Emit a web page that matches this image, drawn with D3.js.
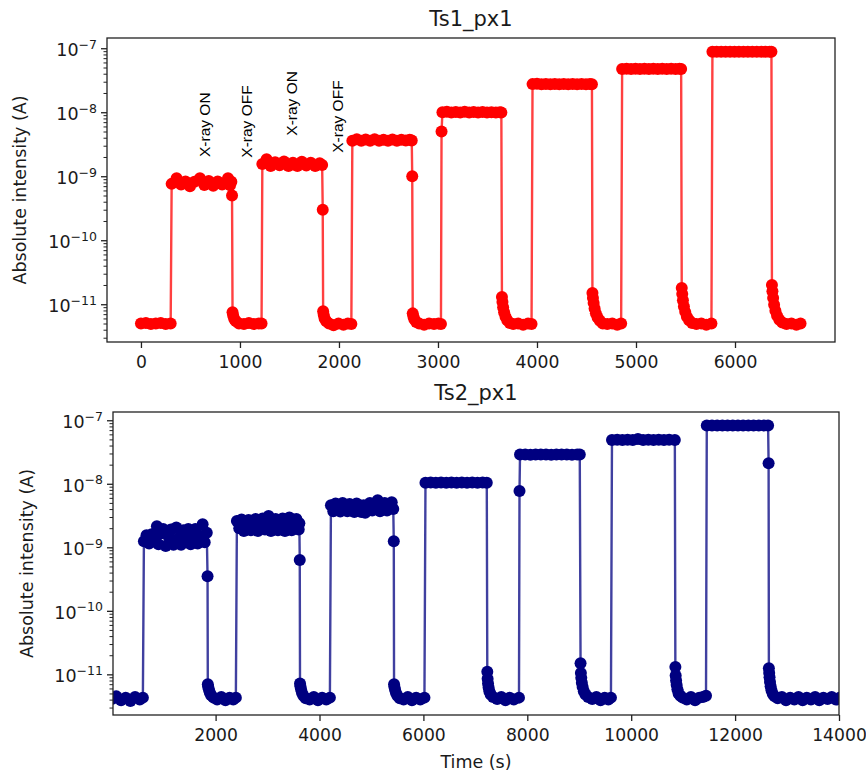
<!DOCTYPE html>
<html>
<head>
<meta charset="utf-8">
<script src="https://cdn.jsdelivr.net/npm/d3@7"></script>
<style>
  body { margin: 0; background: #fff; }
  text { font-family: "DejaVu Sans", sans-serif; fill: #1a1a1a; }
</style>
</head>
<body>
<svg id="chart" width="866" height="774"></svg>
<script>
// time (s), absolute current (A)
const ts1Data = [
  [0,5.0e-12],[50,5.1e-12],[100,4.9e-12],[150,5.0e-12],[200,5.1e-12],[250,4.9e-12],[300,5.0e-12],
  [310,7.6e-10],[360,9.3e-10],[405,7.4e-10],[450,8.3e-10],[495,7.0e-10],[540,8.2e-10],[596,9.3e-10],[640,7.3e-10],
  [685,8.4e-10],[730,7.1e-10],[775,8.3e-10],[820,7.4e-10],[879,9.3e-10],[900,7.2e-10],[913,8.2e-10],
  [920,5.0e-10],
  [925,7.5e-12],[932,6.6e-12],[942,5.9e-12],[960,5.4e-12],[990,5.0e-12],[1040,4.9e-12],[1090,5.1e-12],[1140,4.9e-12],[1190,5.0e-12],[1218,5.0e-12],
  [1226,1.55e-9],[1269,1.85e-9],[1310,1.45e-9],[1355,1.65e-9],[1400,1.48e-9],[1445,1.7e-9],[1490,1.45e-9],[1535,1.62e-9],
  [1580,1.45e-9],[1625,1.68e-9],[1670,1.47e-9],[1715,1.62e-9],[1760,1.45e-9],[1805,1.6e-9],[1830,1.5e-9],
  [1836,3.0e-10],
  [1840,7.8e-12],[1846,6.8e-12],[1855,6.0e-12],[1872,5.4e-12],[1900,5.0e-12],[1945,4.7e-12],[1995,5.0e-12],[2045,4.8e-12],[2090,5.0e-12],[2125,4.9e-12],
  [2135,3.6e-9],[2180,3.8e-9],[2225,3.6e-9],[2270,3.75e-9],[2315,3.6e-9],[2360,3.8e-9],[2405,3.6e-9],[2450,3.72e-9],
  [2495,3.6e-9],[2540,3.76e-9],[2585,3.6e-9],[2630,3.72e-9],[2675,3.62e-9],[2715,3.72e-9],[2735,3.62e-9],
  [2740,1.0e-9],
  [2745,7.2e-12],[2752,6.4e-12],[2762,5.8e-12],[2780,5.3e-12],[2810,5.0e-12],[2860,4.8e-12],[2910,5.0e-12],[2960,4.9e-12],[3005,5.0e-12],[3030,4.9e-12],
  [3036,5.0e-9],
  [3045,1.0e-8],[3090,1.02e-8],[3135,9.9e-9],[3180,1.01e-8],[3225,9.9e-9],[3270,1.02e-8],[3315,9.9e-9],[3360,1.01e-8],
  [3405,9.9e-9],[3450,1.01e-8],[3495,9.9e-9],[3540,1.0e-8],[3585,9.9e-9],[3625,1.0e-8],[3640,9.9e-9],
  [3646,1.3e-11],[3651,1.08e-11],[3658,9.0e-12],[3668,7.5e-12],[3682,6.4e-12],[3700,5.6e-12],[3725,5.1e-12],[3760,4.9e-12],[3810,5.0e-12],[3860,4.8e-12],[3910,5.0e-12],[3945,4.9e-12],
  [3955,2.75e-8],[4000,2.78e-8],[4045,2.74e-8],[4090,2.76e-8],[4135,2.74e-8],[4180,2.77e-8],[4225,2.74e-8],[4270,2.76e-8],
  [4315,2.74e-8],[4360,2.76e-8],[4405,2.74e-8],[4450,2.76e-8],[4495,2.74e-8],[4535,2.75e-8],[4555,2.74e-8],
  [4560,1.5e-11],[4565,1.25e-11],[4572,1.05e-11],[4582,8.6e-12],[4595,7.2e-12],[4612,6.2e-12],[4635,5.5e-12],[4665,5.0e-12],[4710,4.9e-12],[4760,5.0e-12],[4810,4.8e-12],[4850,5.0e-12],
  [4860,4.75e-8],[4905,4.78e-8],[4950,4.74e-8],[4995,4.77e-8],[5040,4.75e-8],[5085,4.78e-8],[5130,4.75e-8],[5175,4.77e-8],
  [5220,4.74e-8],[5265,4.77e-8],[5310,4.75e-8],[5355,4.77e-8],[5400,4.75e-8],[5440,4.76e-8],[5456,4.75e-8],
  [5462,1.8e-11],[5467,1.45e-11],[5474,1.15e-11],[5484,9.2e-12],[5497,7.6e-12],[5514,6.4e-12],[5537,5.6e-12],[5567,5.1e-12],[5610,4.9e-12],[5660,5.0e-12],[5710,4.8e-12],[5762,5.0e-12],
  [5772,8.8e-8],[5815,8.84e-8],[5860,8.78e-8],[5905,8.83e-8],[5950,8.8e-8],[5995,8.83e-8],[6040,8.78e-8],[6085,8.82e-8],
  [6130,8.8e-8],[6175,8.83e-8],[6220,8.79e-8],[6265,8.82e-8],[6310,8.8e-8],[6350,8.82e-8],[6368,8.8e-8],
  [6373,2.0e-11],[6378,1.6e-11],[6385,1.25e-11],[6395,9.8e-12],[6408,7.9e-12],[6425,6.6e-12],[6448,5.7e-12],[6478,5.2e-12],[6520,4.9e-12],[6570,5.0e-12],[6620,4.8e-12],[6662,5.0e-12]
];

const ts2Data = [
  [0,4.1e-12],[90,4.5e-12],[180,3.9e-12],[270,4.3e-12],[360,3.8e-12],[450,4.4e-12],[540,4.0e-12],[600,4.3e-12],
  [620,1.25e-9],[670,1.55e-9],[720,1.15e-9],[770,1.6e-9],[820,1.3e-9],[870,2.15e-9],[900,1.12e-9],[940,1.65e-9],[990,1.95e-9],
  [1040,1.05e-9],[1090,1.5e-9],[1140,1.9e-9],[1190,1.1e-9],[1244,2.05e-9],[1290,1.4e-9],[1335,1.1e-9],[1380,1.85e-9],
  [1430,1.3e-9],[1475,1.95e-9],[1520,1.12e-9],[1565,1.6e-9],[1610,1.95e-9],[1655,1.15e-9],[1700,1.5e-9],[1750,2.3e-9],
  [1790,1.2e-9],[1830,1.7e-9],
  [1845,3.5e-10],
  [1850,7.0e-12],[1858,6.4e-12],[1870,5.8e-12],[1888,5.2e-12],[1915,4.7e-12],[1960,4.3e-12],[2030,4.0e-12],[2110,4.4e-12],[2190,3.9e-12],[2270,4.3e-12],[2340,4.0e-12],[2390,4.3e-12],
  [2410,2.6e-9],[2455,2.0e-9],[2500,2.75e-9],[2545,1.8e-9],[2590,2.3e-9],[2635,2.7e-9],[2680,1.85e-9],[2725,2.4e-9],
  [2770,2.8e-9],[2815,1.8e-9],[2860,2.35e-9],[2905,2.85e-9],[2950,1.9e-9],[2995,2.5e-9],[3020,3.1e-9],[3065,1.8e-9],
  [3110,2.3e-9],[3155,2.8e-9],[3200,1.85e-9],[3245,2.4e-9],[3290,2.85e-9],[3335,1.8e-9],[3380,2.3e-9],[3420,2.95e-9],
  [3465,1.85e-9],[3510,2.5e-9],[3555,2.8e-9],[3600,1.9e-9],[3612,2.4e-9],
  [3620,6.3e-10],
  [3625,7.2e-12],[3633,6.5e-12],[3645,5.8e-12],[3663,5.1e-12],[3690,4.6e-12],[3735,4.2e-12],[3810,4.0e-12],[3890,4.4e-12],[3970,3.9e-12],[4050,4.3e-12],[4130,4.0e-12],[4200,4.3e-12],
  [4220,4.6e-9],[4265,3.7e-9],[4310,4.9e-9],[4355,4.2e-9],[4400,3.65e-9],[4445,5.0e-9],[4490,4.3e-9],[4535,3.7e-9],
  [4580,4.8e-9],[4625,4.1e-9],[4670,3.6e-9],[4715,4.9e-9],[4760,4.2e-9],[4805,3.6e-9],[4850,4.6e-9],[4880,3.5e-9],
  [4925,4.4e-9],[4970,5.0e-9],[5015,3.8e-9],[5060,4.5e-9],[5120,5.5e-9],[5165,3.7e-9],[5210,4.4e-9],[5255,5.0e-9],
  [5300,3.8e-9],[5345,4.6e-9],[5390,5.1e-9],[5420,4.0e-9],
  [5430,1.25e-9],
  [5435,7.0e-12],[5443,6.3e-12],[5455,5.7e-12],[5473,5.1e-12],[5500,4.6e-12],[5545,4.2e-12],[5620,4.0e-12],[5700,4.4e-12],[5780,3.9e-12],[5860,4.3e-12],[5940,4.0e-12],[6020,4.3e-12],
  [6040,1.04e-8],[6140,1.05e-8],[6240,1.04e-8],[6340,1.05e-8],[6440,1.04e-8],[6540,1.05e-8],[6640,1.04e-8],
  [6740,1.05e-8],[6840,1.04e-8],[6940,1.05e-8],[7040,1.04e-8],[7140,1.05e-8],[7220,1.04e-8],
  [7230,1.1e-11],[7236,8.5e-12],[7244,7.2e-12],[7255,6.2e-12],[7270,5.4e-12],[7295,4.8e-12],[7340,4.4e-12],[7420,4.1e-12],[7500,4.4e-12],[7580,3.9e-12],[7660,4.3e-12],[7740,4.0e-12],[7840,4.3e-12],
  [7850,7.7e-9],
  [7860,2.88e-8],[7960,2.9e-8],[8060,2.87e-8],[8160,2.9e-8],[8260,2.88e-8],[8360,2.9e-8],[8460,2.87e-8],
  [8560,2.9e-8],[8660,2.88e-8],[8760,2.9e-8],[8860,2.87e-8],[8960,2.9e-8],[9010,2.88e-8],
  [9025,1.5e-11],[9031,1.05e-11],[9039,8.8e-12],[9050,7.4e-12],[9065,6.3e-12],[9088,5.4e-12],[9120,4.8e-12],[9170,4.4e-12],[9250,4.1e-12],[9330,4.4e-12],[9410,3.9e-12],[9490,4.3e-12],[9560,4.0e-12],[9610,4.3e-12],
  [9630,4.9e-8],[9730,4.93e-8],[9830,4.9e-8],[9930,4.93e-8],[10030,4.9e-8],[10130,5.05e-8],[10230,4.9e-8],
  [10330,4.93e-8],[10430,4.9e-8],[10530,4.93e-8],[10630,4.9e-8],[10730,4.93e-8],[10840,4.9e-8],
  [10850,1.3e-11],[10856,9.6e-12],[10864,8.0e-12],[10875,6.8e-12],[10890,5.8e-12],[10912,5.0e-12],[10945,4.6e-12],[10990,4.3e-12],[11070,4.0e-12],[11150,4.4e-12],[11230,3.9e-12],[11310,4.3e-12],[11380,4.4e-12],[11440,4.6e-12],
  [11455,8.25e-8],[11555,8.28e-8],[11655,8.24e-8],[11755,8.28e-8],[11855,8.25e-8],[11955,8.28e-8],[12055,8.24e-8],
  [12155,8.28e-8],[12255,8.25e-8],[12355,8.28e-8],[12455,8.24e-8],[12555,8.27e-8],[12635,8.25e-8],
  [12645,2.1e-8],
  [12650,1.25e-11],[12656,1.05e-11],[12663,9.0e-12],[12672,7.6e-12],[12684,6.5e-12],[12700,5.6e-12],[12725,4.9e-12],[12760,4.5e-12],
  [12820,4.2e-12],[12900,4.4e-12],[12980,3.9e-12],[13060,4.3e-12],[13140,4.0e-12],[13220,4.4e-12],[13300,3.9e-12],[13380,4.3e-12],
  [13460,4.0e-12],[13540,4.4e-12],[13620,3.9e-12],[13700,4.3e-12],[13780,4.1e-12],[13860,4.4e-12],[13940,4.0e-12],[14020,4.3e-12],[14100,4.1e-12]
];

const ts1XTicks = [0, 1000, 2000, 3000, 4000, 5000, 6000];
const ts2XTicks = [2000, 4000, 6000, 8000, 10000, 12000, 14000];
const yMajorTicks = [1e-11, 1e-10, 1e-9, 1e-8, 1e-7];
const yExponents = ["\u221211", "\u221210", "\u22129", "\u22128", "\u22127"];

// rotated notes in the upper panel: text, time (s), current at the text start (A)
const noteText = ["X-ray ON", "X-ray OFF", "X-ray ON", "X-ray OFF"];
const noteTime = [646, 1068, 1525, 1987];
const noteLevel = [2.0e-9, 1.95e-9, 4.3e-9, 2.33e-9];

const svg = d3.select("#chart");

function drawPanel(p) {
  const x = d3.scaleLinear().domain(p.xDomain).range([p.left, p.right]);
  const y = d3.scaleLog().domain(p.yDomain).range([p.bottom, p.top]);
  const g = svg.append("g");

  g.append("clipPath").attr("id", p.id + "-clip")
    .append("rect")
    .attr("x", p.left).attr("y", p.top)
    .attr("width", p.right - p.left).attr("height", p.bottom - p.top);

  const plot = g.append("g").attr("clip-path", `url(#${p.id}-clip)`);

  const line = d3.line().x(d => x(d[0])).y(d => y(d[1]));

  plot.append("path")
    .datum(p.data)
    .attr("d", line)
    .attr("fill", "none")
    .attr("stroke", p.color)
    .attr("stroke-width", 2.4)
    .attr("stroke-opacity", 0.75);

  plot.selectAll("circle")
    .data(p.data)
    .enter()
    .append("circle")
    .attr("cx", d => x(d[0]))
    .attr("cy", d => y(d[1]))
    .attr("r", 6)
    .attr("fill", p.color);

  // x axis
  const xAxis = g.append("g")
    .attr("transform", `translate(0,${p.bottom})`)
    .call(d3.axisBottom(x).tickValues(p.xTicks).tickSize(6).tickPadding(7.5).tickFormat(d3.format("d")));
  xAxis.select(".domain").remove();
  xAxis.selectAll("line").attr("stroke", "#222").attr("stroke-width", 1.3);
  xAxis.selectAll("text")
    .style("font-family", "'DejaVu Sans', sans-serif")
    .style("font-size", "17.2px")
    .attr("fill", "#1a1a1a");

  // y axis: minor ticks then major ticks
  const minors = y.ticks().filter(v => !yMajorTicks.some(m => Math.abs(m - v) / m < 1e-6));
  const yMinor = g.append("g")
    .attr("transform", `translate(${p.left},0)`)
    .call(d3.axisLeft(y).tickValues(minors).tickSize(3.5).tickFormat(""));
  yMinor.select(".domain").remove();
  yMinor.selectAll("line").attr("stroke", "#222").attr("stroke-width", 1);

  const yMajor = g.append("g")
    .attr("transform", `translate(${p.left},0)`)
    .call(d3.axisLeft(y).tickValues(yMajorTicks).tickSize(6).tickFormat(""));
  yMajor.select(".domain").remove();
  yMajor.selectAll("line").attr("stroke", "#222").attr("stroke-width", 1.3);

  const labels = g.append("g").selectAll("text")
    .data(yMajorTicks)
    .enter()
    .append("text")
    .attr("x", p.left - 10)
    .attr("y", d => y(d) + 8)
    .attr("text-anchor", "end")
    .style("font-size", "17.5px");
  labels.append("tspan").text("10");
  labels.append("tspan")
    .attr("dy", -7.5)
    .style("font-size", "12.5px")
    .text((d, i) => yExponents[i]);

  // frame
  g.append("rect")
    .attr("x", p.left).attr("y", p.top)
    .attr("width", p.right - p.left).attr("height", p.bottom - p.top)
    .attr("fill", "none")
    .attr("stroke", "#222")
    .attr("stroke-width", 1.3);

  // title
  g.append("text")
    .attr("x", (p.left + p.right) / 2)
    .attr("y", p.top - 12)
    .attr("text-anchor", "middle")
    .style("font-size", "21px")
    .text(p.title);

  // y label
  g.append("text")
    .attr("transform", `translate(${p.yLabelX},${(p.top + p.bottom) / 2}) rotate(-90)`)
    .attr("text-anchor", "middle")
    .style("font-size", "17.5px")
    .text("Absolute intensity (A)");

  return { x, y, g };
}

const topPanel = drawPanel({
  id: "ts1", title: "Ts1_px1", data: ts1Data, color: "#ff0000",
  left: 107, right: 835, top: 38, bottom: 342,
  xDomain: [-343, 7010], yDomain: [Math.pow(10, -11.59), Math.pow(10, -6.84)],
  xTicks: ts1XTicks, yLabelX: 26
});

const bottomPanel = drawPanel({
  id: "ts2", title: "Ts2_px1", data: ts2Data, color: "#000080",
  left: 113, right: 839, top: 412, bottom: 715,
  xDomain: [25, 14000], yDomain: [Math.pow(10, -11.64), Math.pow(10, -6.87)],
  xTicks: ts2XTicks, yLabelX: 32.5
});

// annotations on the upper panel
topPanel.g.selectAll(".note")
  .data(noteText)
  .enter()
  .append("text")
  .attr("class", "note")
  .attr("transform", (d, i) => `translate(${topPanel.x(noteTime[i]) + 5.5},${topPanel.y(noteLevel[i])}) rotate(-90)`)
  .style("font-family", "'Liberation Sans', Arial, sans-serif")
  .style("font-size", "15.5px")
  .style("fill", "#000")
  .text(d => d);

// shared x label
svg.append("text")
  .attr("x", (113 + 839) / 2)
  .attr("y", 768)
  .attr("text-anchor", "middle")
  .style("font-size", "17.5px")
  .text("Time (s)");
</script>
</body>
</html>
